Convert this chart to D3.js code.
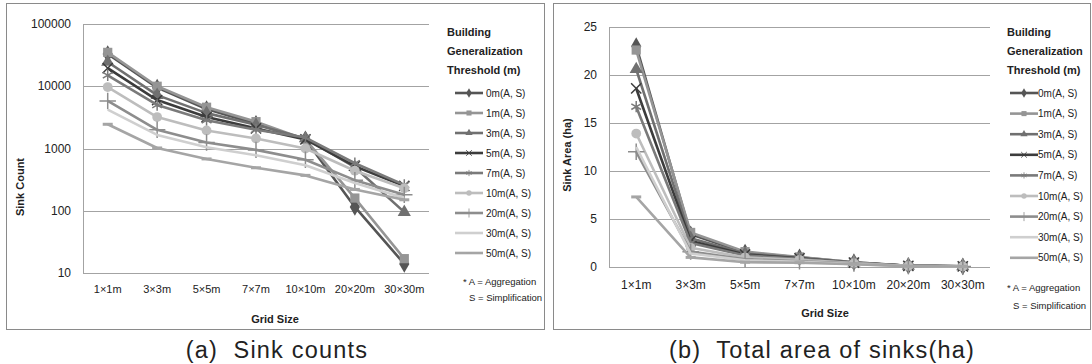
<!DOCTYPE html>
<html>
<head>
<meta charset="utf-8">
<script src="https://cdn.jsdelivr.net/npm/d3@7"></script>
<style>
  body { margin: 0; background: #fff; }
  svg { display: block; }
  text { font-family: "Liberation Sans", Arial, sans-serif; fill: #222; }
</style>
</head>
<body>
<div id="chart"></div>
<script>
// categories & series
const categories = ["1×1m", "3×3m", "5×5m", "7×7m", "10×10m", "20×20m", "30×30m"];
const seriesNames = ["0m(A, S)", "1m(A, S)", "3m(A, S)", "5m(A, S)", "7m(A, S)", "10m(A, S)", "20m(A, S)", "30m(A, S)", "50m(A, S)"];
const seriesColors = ["#555555", "#959595", "#707070", "#3c3c3c", "#7a7a7a", "#bdbdbd", "#8d8d8d", "#cfcfcf", "#a5a5a5"];
const seriesMarkers = ["diamond", "square", "triangle", "x", "asterisk", "circle", "plus", "none", "dash"];

// (a) sink counts
const count0m  = [33000, 9500, 4300, 2500, 1400, 115, 14];
const count1m  = [35000, 10000, 4600, 2700, 1400, 160, 17];
const count3m  = [24500, 7200, 3700, 2400, 1450, 500, 95];
const count5m  = [19500, 6000, 3200, 2100, 1400, 520, 250];
const count7m  = [15000, 5000, 2850, 2000, 1500, 580, 260];
const count10m = [9700, 3200, 1950, 1450, 1000, 440, 230];
const count20m = [5800, 2000, 1250, 950, 660, 310, 180];
const count30m = [4200, 1650, 1050, 780, 540, 280, 160];
const count50m = [2450, 1020, 680, 490, 370, 220, 150];
const sinkCounts = [count0m, count1m, count3m, count5m, count7m, count10m, count20m, count30m, count50m];
const countTicks = [10, 100, 1000, 10000, 100000];

// (b) sink area (ha)
const area0m  = [23.0, 3.4, 1.5, 1.0, 0.5, 0.13, 0.07];
const area1m  = [22.6, 3.6, 1.6, 1.05, 0.5, 0.13, 0.08];
const area3m  = [20.6, 3.0, 1.4, 0.95, 0.45, 0.12, 0.07];
const area5m  = [18.6, 2.7, 1.3, 0.9, 0.45, 0.12, 0.07];
const area7m  = [16.7, 2.5, 1.2, 0.85, 0.45, 0.12, 0.07];
const area10m = [13.9, 2.0, 1.0, 0.75, 0.4, 0.11, 0.06];
const area20m = [12.0, 1.6, 0.8, 0.6, 0.35, 0.1, 0.06];
const area30m = [12.5, 1.4, 0.7, 0.55, 0.3, 0.1, 0.05];
const area50m = [7.3, 1.0, 0.5, 0.45, 0.28, 0.09, 0.05];
const sinkAreas = [area0m, area1m, area3m, area5m, area7m, area10m, area20m, area30m, area50m];
const areaTicks = [0, 5, 10, 15, 20, 25];

const svg = d3.select("#chart")
  .append("svg")
    .attr("width", 1092)
    .attr("height", 364);

function drawMarker(g, type, color, cx, cy) {
  const sym = {
    diamond: d3.symbolDiamond, square: d3.symbolSquare, triangle: d3.symbolTriangle,
    circle: d3.symbolCircle, x: d3.symbolX, asterisk: d3.symbolAsterisk, plus: d3.symbolPlus
  };
  if (type === "none") return;
  if (type === "dash") {
    g.append("line")
      .attr("x1", cx - 5).attr("x2", cx + 5).attr("y1", cy).attr("y2", cy)
      .attr("stroke", color).attr("stroke-width", 3);
    return;
  }
  const stroked = type === "x" || type === "asterisk" || type === "plus";
  const size = { diamond: 90, square: 85, triangle: 75, circle: 75, x: 70, asterisk: 90, plus: 90 }[type];
  g.append("path")
    .attr("transform", `translate(${cx},${cy})`)
    .attr("d", d3.symbol(sym[type], size)())
    .attr("fill", stroked ? "none" : color)
    .attr("stroke", color)
    .attr("stroke-width", stroked ? 1.5 : 0);
}

function drawPanel(p) {
  // frame
  svg.append("rect")
    .attr("x", p.frame[0] + 0.5).attr("y", p.frame[1] + 0.5)
    .attr("width", p.frame[2]).attr("height", p.frame[3])
    .attr("fill", "none").attr("stroke", "#8a8a8a");

  const x = d3.scalePoint().domain(categories).range([p.left, p.right]).padding(0.5);
  const y = p.y;

  const g = svg.append("g");

  // gridlines
  g.selectAll(".grid").data(p.ticks).enter().append("line")
    .attr("x1", p.left).attr("x2", p.right)
    .attr("y1", d => Math.round(y(d)) + 0.5).attr("y2", d => Math.round(y(d)) + 0.5)
    .attr("stroke", "#a3a3a3");
  g.append("line")
    .attr("x1", p.left + 0.5).attr("x2", p.left + 0.5)
    .attr("y1", y.range()[0]).attr("y2", y.range()[1])
    .attr("stroke", "#a3a3a3");

  // y tick labels
  g.selectAll(".yl").data(p.ticks).enter().append("text")
    .attr("x", p.left - 12).attr("y", d => y(d))
    .attr("text-anchor", "end").attr("dominant-baseline", "central")
    .style("font-size", "12px")
    .text(d => d);

  // x tick labels
  g.selectAll(".xl").data(categories).enter().append("text")
    .attr("x", d => x(d)).attr("y", p.xLabelY)
    .attr("text-anchor", "middle").attr("dominant-baseline", "central")
    .style("font-size", p.xFont)
    .text(d => d);

  // axis titles
  g.append("text")
    .attr("x", p.xTitle[0]).attr("y", p.xTitle[1])
    .attr("text-anchor", "middle").attr("dominant-baseline", "central")
    .style("font-size", "11px").style("font-weight", "bold")
    .text("Grid Size");
  g.append("text")
    .attr("transform", `translate(${p.yTitle[0]},${p.yTitle[1]}) rotate(-90)`)
    .attr("text-anchor", "middle").attr("dominant-baseline", "central")
    .style("font-size", "11px").style("font-weight", "bold")
    .text(p.yTitleText);

  // series
  const line = d3.line().x((d, i) => x(categories[i])).y(d => y(d));
  p.data.forEach((vals, s) => {
    const sg = g.append("g");
    sg.append("path")
      .attr("d", line(vals))
      .attr("fill", "none")
      .attr("stroke", seriesColors[s])
      .attr("stroke-width", 2.6)
      .attr("stroke-linejoin", "round");
    vals.forEach((v, i) => drawMarker(sg, seriesMarkers[s], seriesColors[s], x(categories[i]), y(v)));
  });

  // legend
  const lg = svg.append("g");
  ["Building", "Generalization", "Threshold (m)"].forEach((t, i) => {
    lg.append("text")
      .attr("x", p.legX).attr("y", p.legTitleY + i * 19)
      .attr("dominant-baseline", "central")
      .style("font-size", "11px").style("font-weight", "bold")
      .text(t);
  });
  seriesNames.forEach((name, s) => {
    const cy = p.legRowY + s * p.legStep;
    lg.append("line")
      .attr("x1", p.legLine[0]).attr("x2", p.legLine[1])
      .attr("y1", cy).attr("y2", cy)
      .attr("stroke", seriesColors[s]).attr("stroke-width", 2.6);
    const mg = lg.append("g").attr("transform", `translate(${(p.legLine[0] + p.legLine[1]) / 2},${cy}) scale(0.55)`);
    drawMarker(mg, seriesMarkers[s], seriesColors[s], 0, 0);
    lg.append("text")
      .attr("x", p.legLine[1] + p.legGap).attr("y", cy)
      .attr("dominant-baseline", "central")
      .style("font-size", "10px")
      .text(name);
  });
  lg.append("text")
    .attr("x", p.note[0]).attr("y", p.note[1])
    .attr("dominant-baseline", "central").style("font-size", "9.5px")
    .text("* A = Aggregation");
  lg.append("text")
    .attr("x", p.note[0] + 6).attr("y", p.note[1] + p.note[2])
    .attr("dominant-baseline", "central").style("font-size", "9.5px")
    .text("S = Simplification");

  // caption
  svg.append("text")
    .attr("x", p.caption[0]).attr("y", p.caption[1])
    .attr("text-anchor", "middle")
    .style("font-size", "23.5px").style("letter-spacing", "1.2px").style("white-space", "pre")
    .text(p.captionText);
}

drawPanel({
  frame: [6, 3, 538, 326],
  left: 83, right: 429,
  y: d3.scaleLog().domain([10, 100000]).range([273, 24]),
  ticks: countTicks,
  data: sinkCounts,
  xLabelY: 289, xFont: "11px",
  xTitle: [275, 319], yTitle: [20, 187], yTitleText: "Sink Count",
  legX: 447, legTitleY: 32, legRowY: 93, legStep: 20,
  legLine: [455, 483], legGap: 3,
  note: [463, 281, 16],
  caption: [277, 358], captionText: "(a)  Sink counts"
});

drawPanel({
  frame: [553, 3, 537, 326],
  left: 609, right: 990,
  y: d3.scaleLinear().domain([0, 25]).range([267, 27]),
  ticks: areaTicks,
  data: sinkAreas,
  xLabelY: 285, xFont: "12px",
  xTitle: [825, 313], yTitle: [567, 155], yTitleText: "Sink Area (ha)",
  legX: 1007, legTitleY: 32, legRowY: 93, legStep: 20.6,
  legLine: [1010, 1038], legGap: 0,
  note: [1007, 287, 18],
  caption: [822, 358], captionText: "(b)  Total area of sinks(ha)"
});
</script>
</body>
</html>
